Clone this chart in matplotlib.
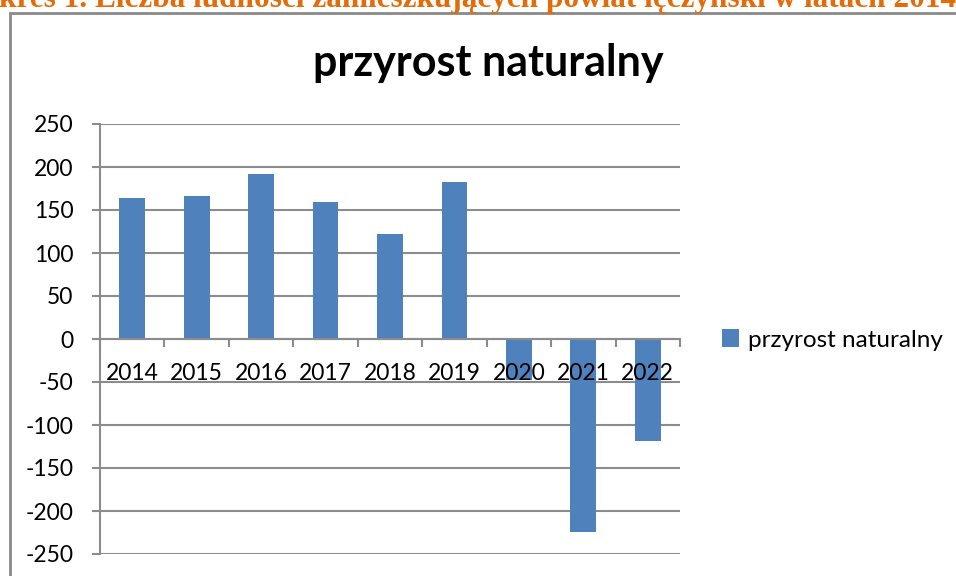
import matplotlib
matplotlib.use("Agg")
import matplotlib.pyplot as plt
from matplotlib.patches import Rectangle
from matplotlib.transforms import blended_transform_factory
import numpy as np

years = ["2014", "2015", "2016", "2017", "2018", "2019", "2020", "2021", "2022"]
values = [164, 166, 192, 159, 122, 183, -48, -224, -119]
series_name = "przyrost naturalny"
chart_title = "przyrost naturalny"
header = "kres 1. Liczba ludności zamieszkujących powiat łęczyński w latach 2014-2022"
y_ticks = [250, 200, 150, 100, 50, 0, -50, -100, -150, -200, -250]

W, H = 956, 576
DPI = 100
FONT = "Lato"
GRID = "#8c8c8c"
BAR = "#4F81BD"

fig = plt.figure(figsize=(W / DPI, H / DPI), dpi=DPI)

def px(x0, y0, w, h):
    return [x0 / W, 1 - (y0 + h) / H, w / W, h / H]

# outer chart border
fig.patches.append(Rectangle((10 / W, -0.1), 1.2, 1 - 13 / H + 0.1, transform=fig.transFigure,
                             fill=False, edgecolor="#8a8a8a", linewidth=2.0))

# header (cut off at top)
fig.text(-1 / W, 1 - 7 / H, header, fontfamily="Liberation Serif", fontweight="bold",
         fontsize=22.5, color="#E36C0A", ha="left", va="baseline")

ax = fig.add_axes(px(100, 124, 580, 430))
x = np.arange(len(years))
ax.bar(x, values, width=0.4, color=BAR, label=series_name, zorder=3)

ax.set_xlim(-0.5, len(years) - 0.5)
ax.set_ylim(min(y_ticks), max(y_ticks))
ax.set_yticks(y_ticks)
ax.set_yticklabels([str(v) for v in y_ticks], fontfamily=FONT, fontsize=16.5)
ax.grid(axis="y", color=GRID, linewidth=1.5, zorder=0)
ax.tick_params(axis="y", length=6, width=1.5, color=GRID, pad=13)

for s in ["top", "right"]:
    ax.spines[s].set_visible(False)
ax.spines["left"].set_color(GRID)
ax.spines["left"].set_linewidth(1.5)
ax.spines["bottom"].set_position(("data", 0))
ax.spines["bottom"].set_color(GRID)
ax.spines["bottom"].set_linewidth(1.5)
ax.spines["bottom"].set_zorder(4)

ax.set_xticks(np.arange(len(years) + 1) - 0.5)
ax.set_xticklabels([])
ax.tick_params(axis="x", which="major", direction="out", length=6, width=1.5, color=GRID)

# category labels drawn above the bars
trans = blended_transform_factory(ax.transData, fig.transFigure)
for xi, lab in zip(x, years):
    ax.text(xi, 1 - 374 / H, lab, transform=trans, ha="center", va="center",
            fontfamily=FONT, fontsize=16.5, zorder=6, clip_on=False)

fig.text(488 / W, 1 - 63 / H, chart_title, fontfamily=FONT, fontweight="bold",
         fontsize=31, ha="center", va="center")

fig.legend(loc="center left", bbox_to_anchor=(722 / W, 1 - 340 / H), frameon=False,
           prop={"family": FONT, "size": 17.5}, handlelength=0.7, handleheight=0.7,
           handletextpad=0.35, borderpad=0, borderaxespad=0)

fig.savefig("out.png", dpi=DPI)
